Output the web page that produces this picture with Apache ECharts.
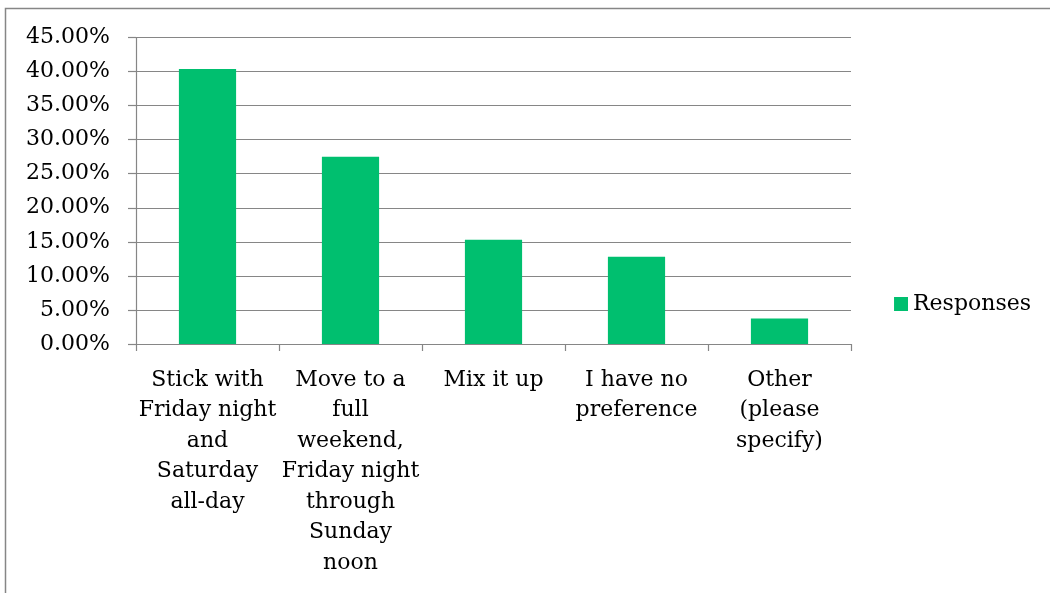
<!DOCTYPE html>
<html><head><meta charset="utf-8">
<script src="https://cdn.jsdelivr.net/npm/echarts@6/dist/echarts.min.js"></script>
<style>html,body{margin:0;padding:0;background:#fff}#c{width:1050px;height:593px}</style>
</head><body><div id="c"></div>
<script>
const categories = [
  "Stick with\nFriday night\nand\nSaturday\nall-day",
  "Move to a\nfull\nweekend,\nFriday night\nthrough\nSunday\nnoon",
  "Mix it up",
  "I have no\npreference",
  "Other\n(please\nspecify)"
];
const responses = [40.38, 27.50, 15.30, 12.80, 3.75];
const seriesName = "Responses";

const FONT = "'DejaVu Serif', serif";
const chart = echarts.init(document.getElementById('c'), null, {renderer: 'canvas'});
chart.setOption({
  animation: false,
  backgroundColor: '#fff',
  graphic: [{
    type: 'rect', shape: {x: 5.5, y: 8.5, width: 1100, height: 700},
    style: {fill: 'none', stroke: '#868686', lineWidth: 1.5}, silent: true, z: -1
  }],
  grid: {left: 136, right: 199, top: 37.5, bottom: 249, containLabel: false},
  legend: {
    data: [seriesName], right: 14, top: 288,
    icon: 'rect', itemWidth: 14, itemHeight: 14, itemGap: 8,
    textStyle: {fontFamily: FONT, fontSize: 22, color: '#000'}
  },
  xAxis: {
    type: 'category', data: categories,
    axisLine: {lineStyle: {color: '#868686', width: 1.2}},
    axisTick: {show: true, length: 7, lineStyle: {color: '#868686', width: 1.2}},
    axisLabel: {interval: 0, fontFamily: FONT, fontSize: 22, color: '#000',
      lineHeight: 30.5, margin: 21, align: 'center'}
  },
  yAxis: {
    type: 'value', min: 0, max: 45, interval: 5,
    axisLine: {show: true, lineStyle: {color: '#868686', width: 1.2}},
    axisTick: {show: true, length: 8, lineStyle: {color: '#868686', width: 1.2}},
    splitLine: {lineStyle: {color: '#868686', width: 1.2}},
    axisLabel: {formatter: v => v.toFixed(2) + '%', fontFamily: FONT, fontSize: 22,
      color: '#000', margin: 26}
  },
  series: [{
    name: seriesName, type: 'bar', data: responses,
    barCategoryGap: '60%',
    itemStyle: {color: '#00BF6F'}
  }]
});
</script></body></html>
